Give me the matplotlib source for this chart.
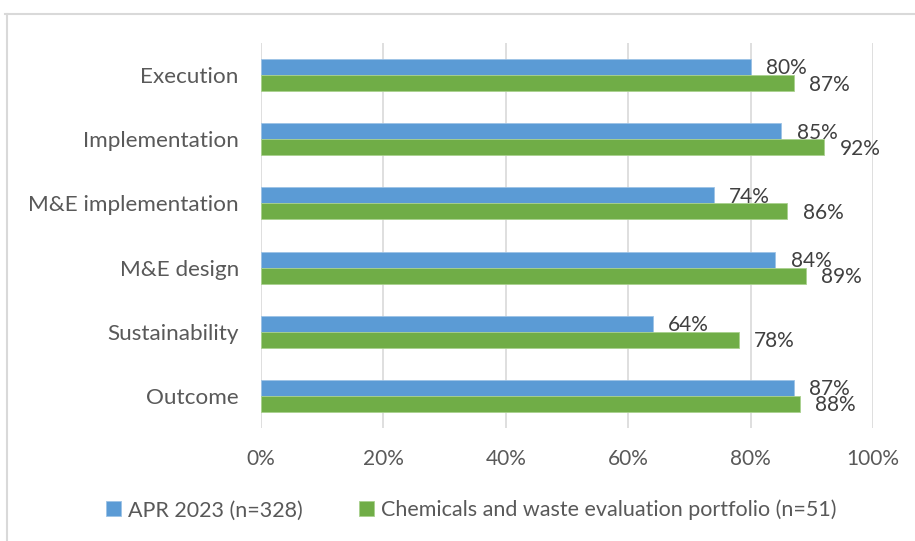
import matplotlib.pyplot as plt
import numpy as np
from matplotlib.lines import Line2D

categories = ['Execution', 'Implementation', 'M&E implementation',
              'M&E design', 'Sustainability', 'Outcome']
apr_2023 = [80, 85, 74, 84, 64, 87]
chem_waste = [87, 92, 86, 89, 78, 88]
series_names = ['APR 2023 (n=328)', 'Chemicals and waste evaluation portfolio (n=51)']
x_ticks = [0, 20, 40, 60, 80, 100]

plt.rcParams['font.family'] = ['Lato', 'DejaVu Sans']
text_col = '#595959'
fs = 15

fig = plt.figure(figsize=(9.15, 5.41), dpi=100)
ax = fig.add_axes([0.2853, 0.2089, 0.669, 0.7116])

y = np.arange(len(categories))
h = 0.25
b1 = ax.barh(y - h / 2, apr_2023, height=h, color='#5B9BD5', edgecolor='#9DC3E6', linewidth=0.6, zorder=3, label=series_names[0])
b2 = ax.barh(y + h / 2, chem_waste, height=h, color='#70AD47', edgecolor='#A9D18E', linewidth=0.6, zorder=3, label=series_names[1])

for bars, vals in ((b1, apr_2023), (b2, chem_waste)):
    for rect, v in zip(bars, vals):
        ax.annotate('%d%%' % v, (v, rect.get_y() + rect.get_height() / 2),
                    xytext=(11, -1), textcoords='offset points',
                    ha='left', va='center', fontsize=fs, color='#404040')

ax.set_xlim(0, 100)
ax.set_ylim(len(categories) - 0.5, -0.5)
ax.set_yticks(y)
ax.set_yticklabels(categories, fontsize=16.2, color=text_col)
ax.set_xticks(x_ticks)
ax.set_xticklabels(['%d%%' % t for t in x_ticks], fontsize=fs, color=text_col)
ax.tick_params(axis='both', length=0)
ax.tick_params(axis='y', pad=16)
ax.tick_params(axis='x', pad=15)
ax.grid(axis='x', color='#D9D9D9', linewidth=1.2, zorder=0)
for s in ax.spines.values():
    s.set_visible(False)

fig.legend(handles=[b1, b2], labels=series_names, loc='center', bbox_to_anchor=(0.515, 0.057),
           ncol=2, frameon=False, fontsize=15.5, handlelength=0.7, handleheight=0.7,
           handletextpad=0.35, columnspacing=2.6, labelcolor=text_col)

# chart area frame (top and left edges)
fig.add_artist(Line2D([5 / 915, 1], [1 - 14 / 541, 1 - 14 / 541], color='#D9D9D9', linewidth=1.5, transform=fig.transFigure))
fig.add_artist(Line2D([7 / 915, 7 / 915], [0, 1 - 14 / 541], color='#D9D9D9', linewidth=1.5, transform=fig.transFigure))

fig.savefig('out.png', dpi=100)
